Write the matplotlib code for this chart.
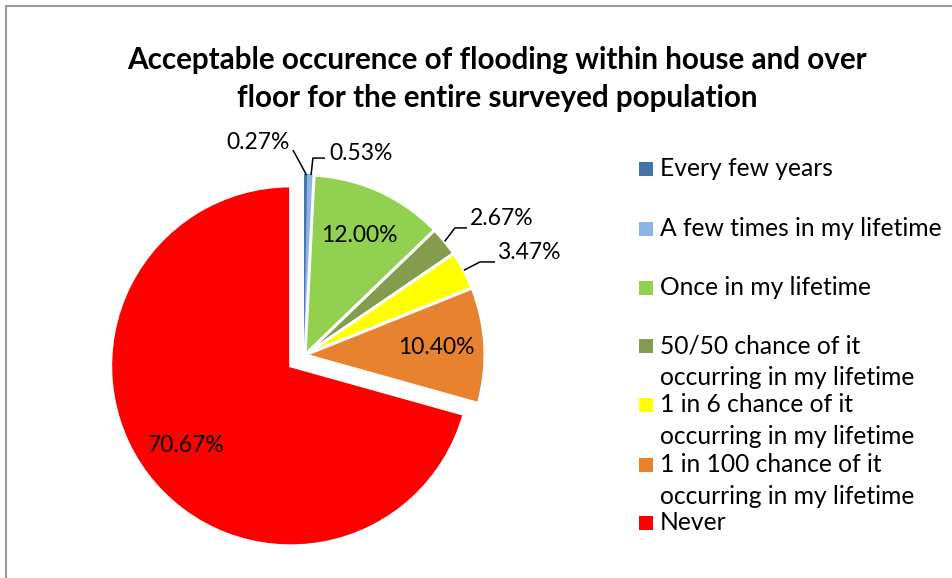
import matplotlib
matplotlib.use("Agg")
import matplotlib.pyplot as plt
from matplotlib.patches import Rectangle
import numpy as np

categories = ["Every few years", "A few times in my lifetime", "Once in my lifetime",
              "50/50 chance of it\noccurring in my lifetime",
              "1 in 6 chance of it\noccurring in my lifetime",
              "1 in 100 chance of it\noccurring in my lifetime", "Never"]
values = [0.27, 0.53, 12.00, 2.67, 3.47, 10.40, 70.67]
colors = ["#4572A7", "#8EB4E3", "#92D050", "#859B4E", "#FFFF00", "#E8822F", "#FF0000"]
explode = [0, 0, 0, 0, 0, 0, 0.1]
title = "Acceptable occurence of flooding within house and over\nfloor for the entire surveyed population"

FONT = "Lato"
W, H = 953, 578
fig = plt.figure(figsize=(W / 100, H / 100), dpi=100)

# chart frame
fig.patches.append(Rectangle((6 / W, -0.01), 1.1, (H - 6) / H + 0.01, transform=fig.transFigure,
                             fill=False, edgecolor="#9A9A9A", linewidth=1.5))

fig.text(497 / W, 1 - 79 / H, title, ha="center", va="center", fontsize=21.3, fontweight="bold",
         family=FONT, linespacing=1.45)

cx, cy, R = 305, 355, 180
half = 1.2 * R
ax = fig.add_axes([(cx - half) / W, (H - cy - half) / H, 2 * half / W, 2 * half / H])
ax.axis("off")

wedges, _ = ax.pie(values, colors=colors, startangle=90, counterclock=False, explode=explode,
                   radius=1.0, wedgeprops=dict(edgecolor="white", linewidth=2.2))
# very thin slices: outline in their own colour so they stay visible
for w, v, c in zip(wedges, values, colors):
    if v < 1:
        w.set_edgecolor(c)
        w.set_linewidth(1.4)
ax.set_xlim(-1.2, 1.2)
ax.set_ylim(-1.2, 1.2)
ax.set_aspect("equal")

LBL = 16.5
total = sum(values)
cum = np.cumsum([0] + values)
inside = {2: 0.73, 5: 0.73, 6: 0.73}
for i, v in enumerate(values):
    mid = np.deg2rad(90 - 360 * (cum[i] + v / 2) / total)
    ex = explode[i]
    if i in inside:
        r = inside[i] + ex
        ax.text(r * np.cos(mid), r * np.sin(mid), f"{v:.2f}%", ha="center", va="center",
                fontsize=LBL, family=FONT)

# outside labels with leader lines (label anchor positions in radius units)
outside = {
    0: dict(path=[(-0.067, 1.139)], text=(-0.085, 1.178), ha="right"),
    1: dict(path=[(0.044, 1.094), (0.111, 1.094)], text=(0.135, 1.122), ha="left"),
    3: dict(path=[(0.833, 0.706), (0.900, 0.706)], text=(0.918, 0.761), ha="left"),
    4: dict(path=[(0.972, 0.517), (1.056, 0.517)], text=(1.068, 0.567), ha="left"),
}
for i, spec in outside.items():
    v = values[i]
    mid = np.deg2rad(90 - 360 * (cum[i] + v / 2) / total)
    start = (1.0 * np.cos(mid), 1.0 * np.sin(mid))
    pts = [start] + spec["path"]
    ax.plot([p[0] for p in pts], [p[1] for p in pts], color="black", linewidth=1.1,
            solid_capstyle="butt", clip_on=False)
    ax.text(spec["text"][0], spec["text"][1], f"{v:.2f}%", ha=spec["ha"], va="center",
            fontsize=LBL, family=FONT)

# legend drawn manually (first-line baseline pixel rows)
leg_base = [176, 236, 295, 353, 412, 472, 530]
LINE = 32
for lab, col, y in zip(categories, colors, leg_base):
    fig.patches.append(Rectangle((639 / W, 1 - y / H), 14 / W, 14 / H,
                                 transform=fig.transFigure, facecolor=col, edgecolor="none"))
    lines = lab.split("\n")
    for k, line in enumerate(lines):
        fig.text(660 / W, 1 - (y + k * LINE) / H, line, ha="left", va="baseline",
                 fontsize=17.7, family=FONT)

fig.savefig("out.png", dpi=100)
